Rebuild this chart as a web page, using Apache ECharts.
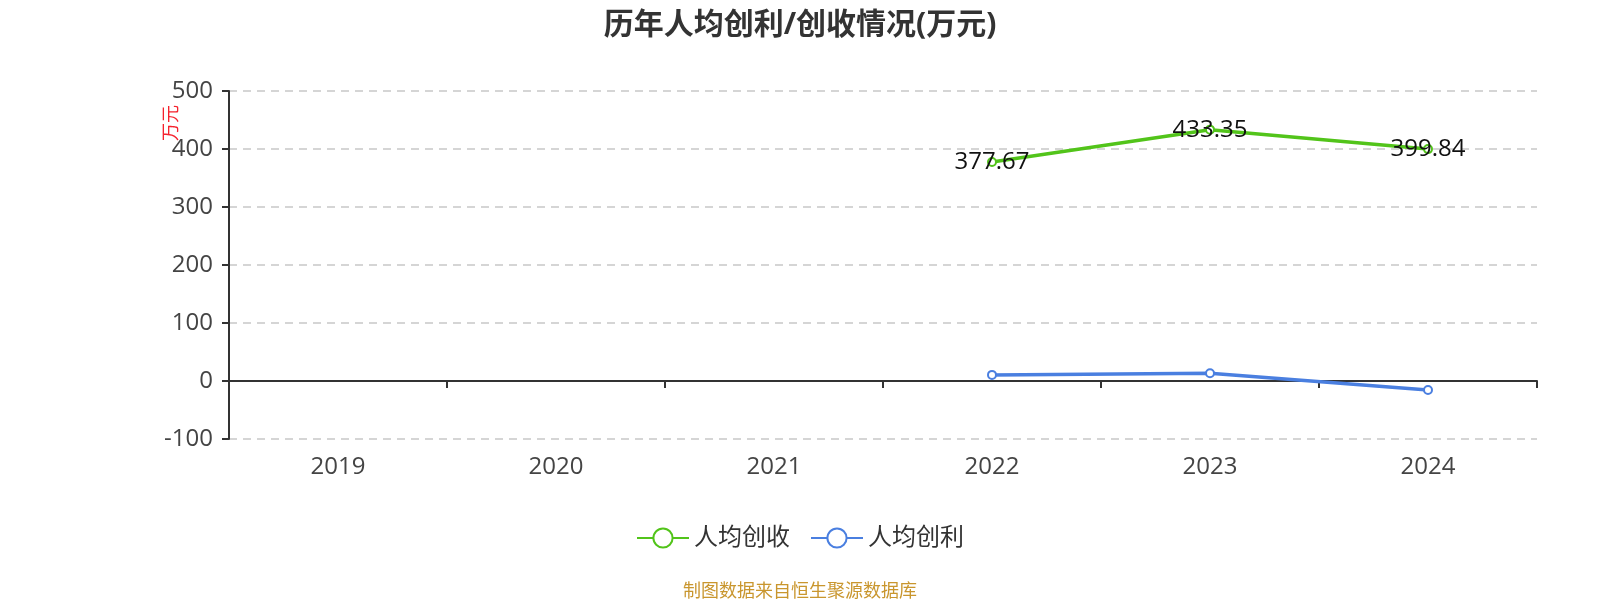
<!DOCTYPE html>
<html><head><meta charset="utf-8">
<script src="https://cdn.jsdelivr.net/npm/echarts@6/dist/echarts.min.js"></script>
<style>html,body{margin:0;padding:0;background:#fff}#c{width:1600px;height:600px}</style>
</head><body><div id="c"></div>
<script>
const years = ['2019','2020','2021','2022','2023','2024'];
const revenuePerCapita = [null, null, null, 377.67, 433.35, 399.84];
const profitPerCapita = [null, null, null, 10.5, 13.5, -15.5];
const yTicks = {min: -100, max: 500, interval: 100};

const chart = echarts.init(document.getElementById('c'));
const font = '"Open Sans","Noto Sans CJK SC",sans-serif';
chart.setOption({
  animation: false,
  title: [{
    text: '历年人均创利/创收情况(万元)', left: 'center', top: 5,
    textStyle: {fontSize: 30, fontWeight: 'bold', color: '#333', fontFamily: font}
  }, {
    text: '制图数据来自恒生聚源数据库', left: 'center', top: 578,
    textStyle: {fontSize: 18, fontWeight: 'normal', color: '#c9962e', fontFamily: font}
  }],
  legend: {
    bottom: 45, left: 'center', itemWidth: 52, itemHeight: 24, itemGap: 20,
    textStyle: {fontSize: 24, color: '#333', fontFamily: font},
    data: ['人均创收', '人均创利']
  },
  grid: {left: 229, right: 63, top: 91, bottom: 161, containLabel: false},
  graphic: [{
    type: 'text', x: 163, y: 105, rotation: Math.PI / 2,
    style: {text: '万元', fill: '#f5222d', fontSize: 18, fontFamily: font, align: 'right'}
  }],
  xAxis: {
    type: 'category', data: years, boundaryGap: true,
    axisLine: {onZero: true, lineStyle: {color: '#333', width: 2}},
    axisTick: {show: true, length: 7, lineStyle: {color: '#333', width: 2}},
    axisLabel: {margin: 16, fontSize: 24, color: '#444', fontFamily: font},
    splitLine: {show: false}
  },
  yAxis: {
    type: 'value', min: yTicks.min, max: yTicks.max, interval: yTicks.interval,
    axisLine: {show: true, lineStyle: {color: '#333', width: 2}},
    axisTick: {show: true, length: 7, lineStyle: {color: '#333', width: 2}},
    axisLabel: {fontSize: 24, color: '#444', fontFamily: font, margin: 16},
    splitLine: {show: true, lineStyle: {type: [8, 6], color: '#c8c8c8', width: 1.5}}
  },
  series: [{
    name: '人均创收', type: 'line', data: revenuePerCapita,
    color: '#52c41a', symbol: 'emptyCircle', symbolSize: 8,
    lineStyle: {width: 3.5},
    label: {show: true, position: 'inside', fontSize: 24, color: '#111', fontFamily: font}
  }, {
    name: '人均创利', type: 'line', data: profitPerCapita,
    color: '#4a7fe0', symbol: 'emptyCircle', symbolSize: 8,
    lineStyle: {width: 3.5}, label: {show: false}
  }]
});
</script></body></html>
